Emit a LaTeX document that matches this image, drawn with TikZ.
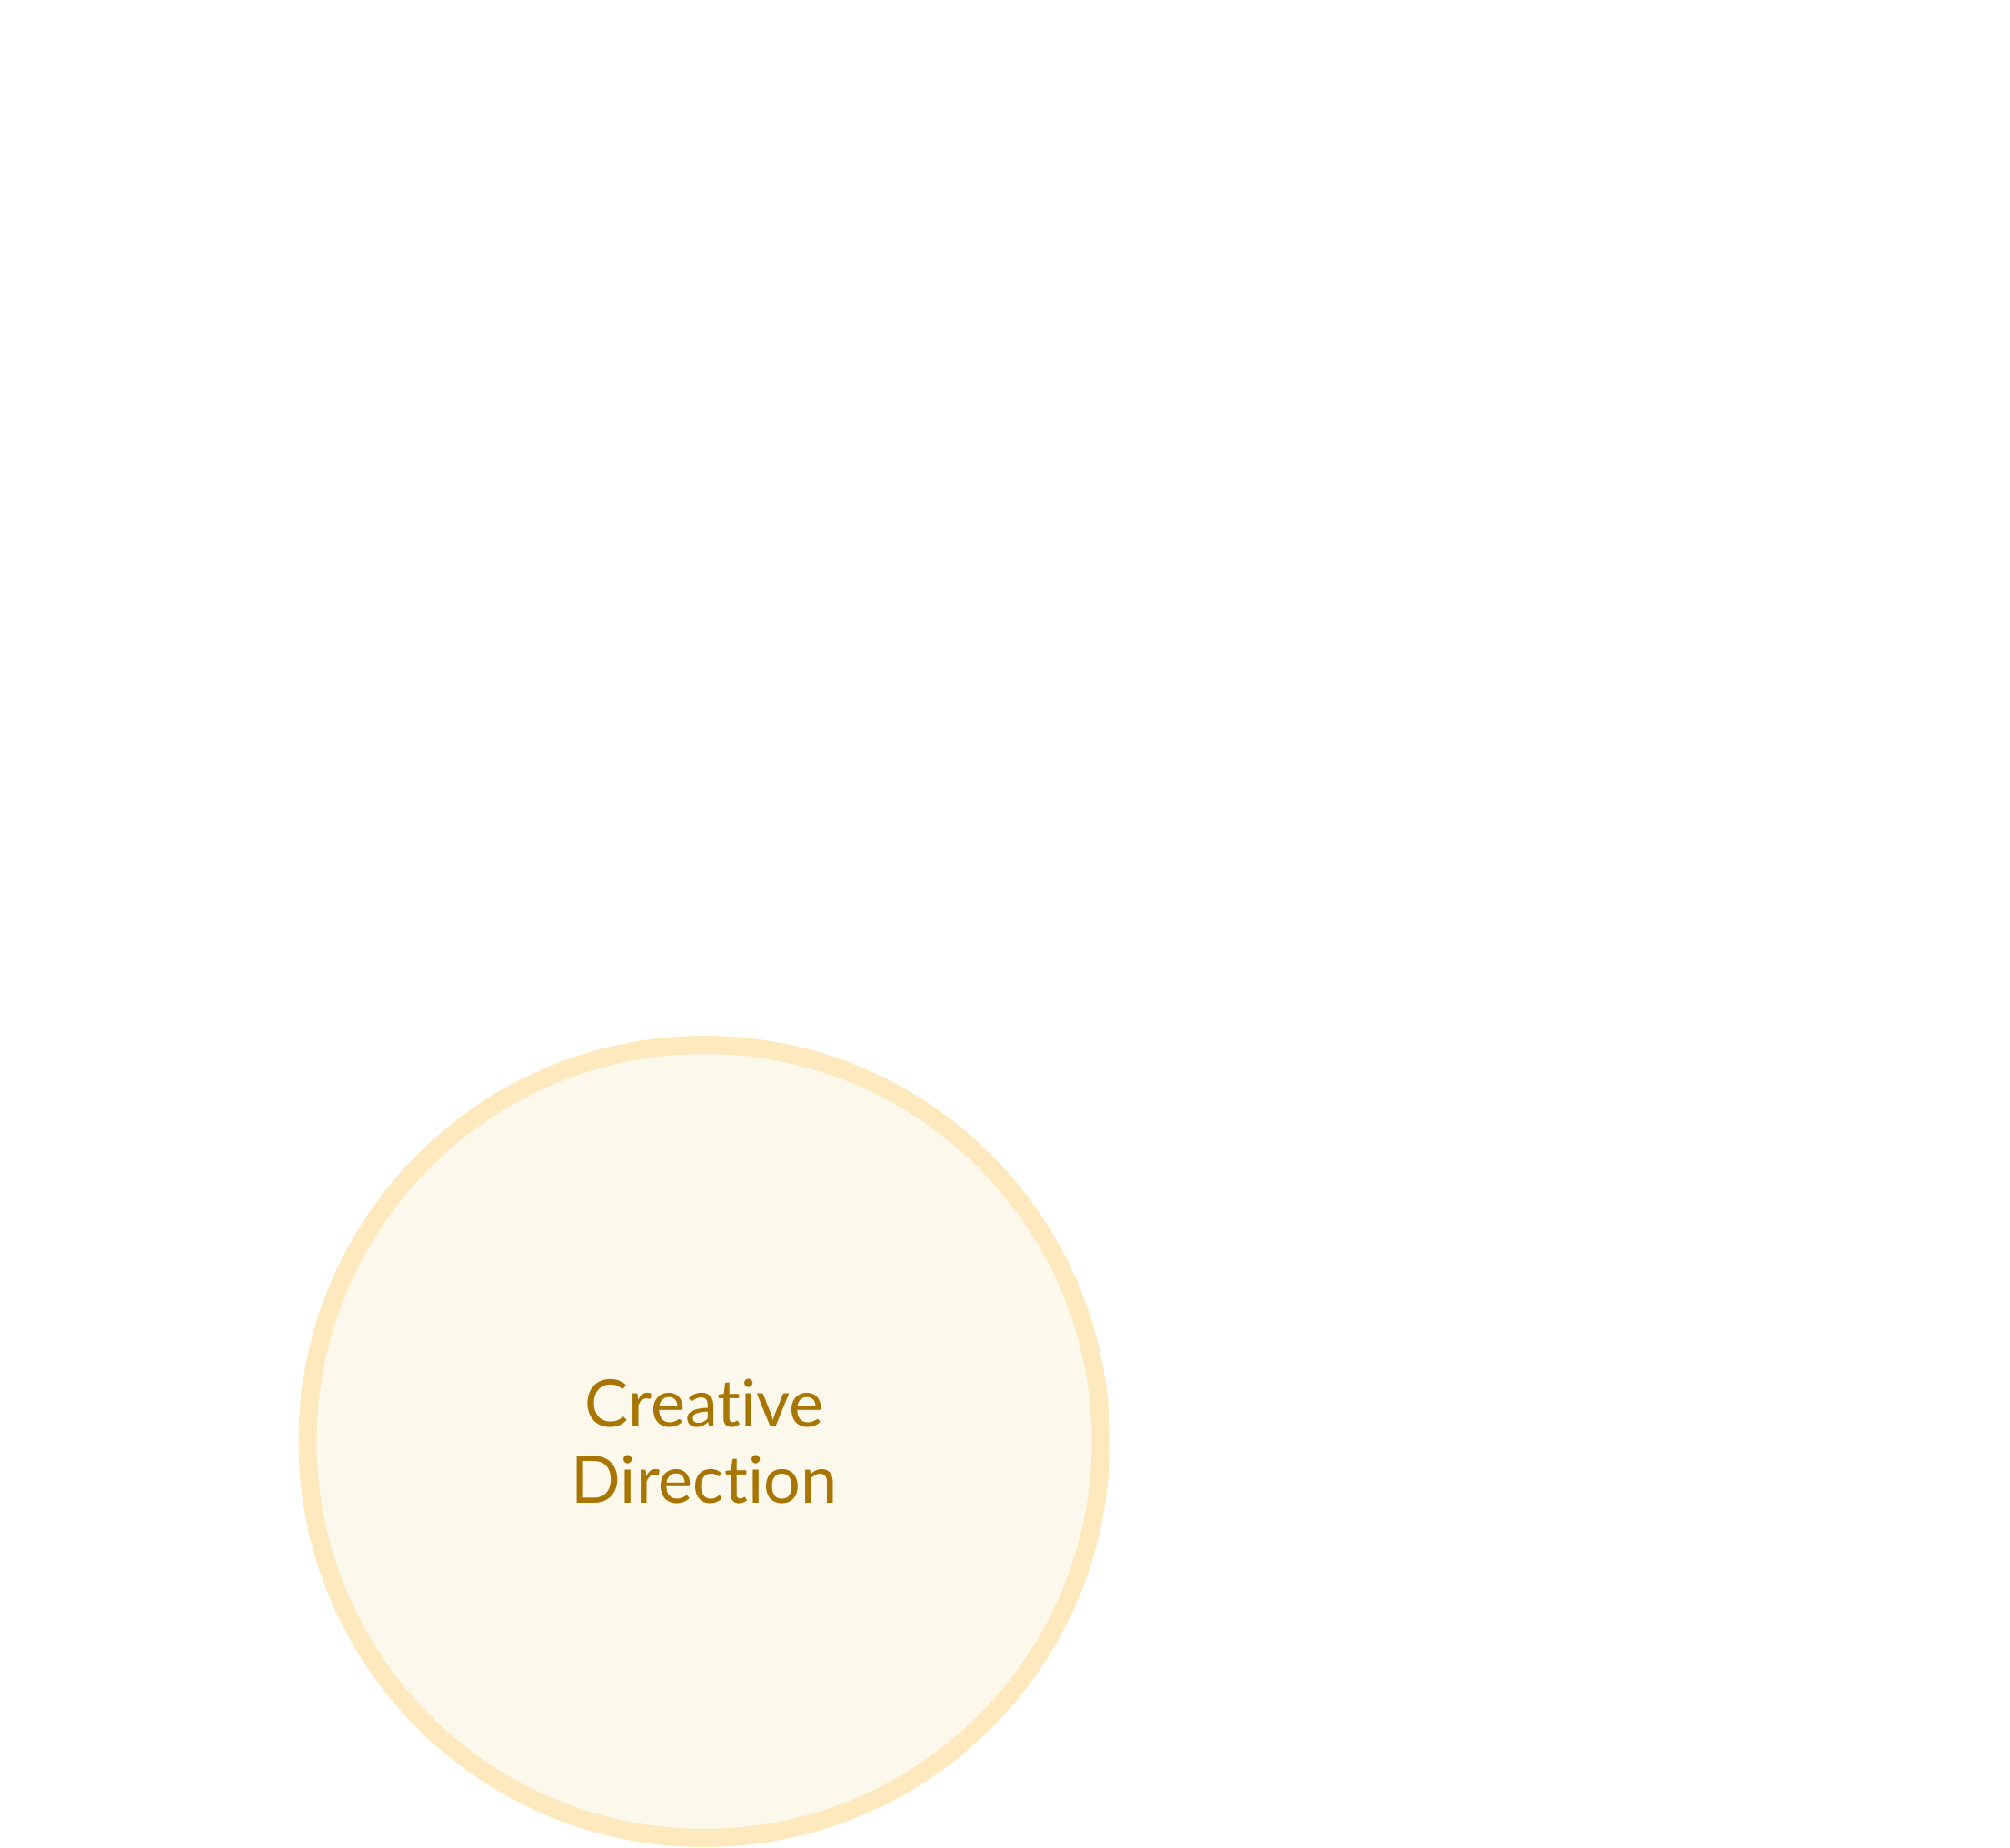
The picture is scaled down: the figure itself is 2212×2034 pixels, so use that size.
\documentclass[tikz,border=0pt]{standalone}
\usepackage{fontspec}
\setmainfont[Ligatures={NoCommon,NoRare}]{Lato}
\definecolor{cfill}{HTML}{FCF8EC}
\definecolor{cline}{HTML}{FDE9BD}
\definecolor{ctext}{HTML}{A87500}
\tikzset{
  bubble/.style={circle, fill=cfill, draw=cline, line width=20pt, minimum size=873pt, inner sep=0pt},
  bubbletext/.style={text=ctext, align=center, font=\fontsize{72}{84}\selectfont}
}
\begin{document}
\begin{tikzpicture}[x=1pt,y=1pt]
\useasboundingbox (0,0) rectangle (2212,-2034);
\node[bubble] (cd) at (775,-1586.5) {};
\node[bubbletext] (cdl) at (cd.center) {Creative\\Direction};
\end{tikzpicture}
\end{document}
